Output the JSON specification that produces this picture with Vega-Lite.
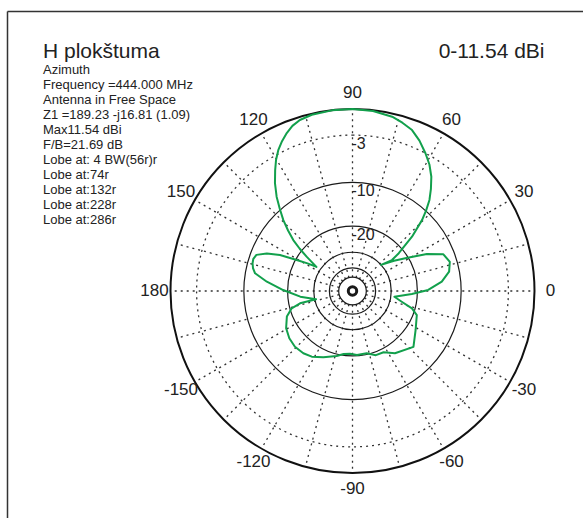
{
  "$schema": "https://vega.github.io/schema/vega-lite/v6.json",
  "width": 576,
  "height": 507,
  "autosize": {"type": "none"},
  "padding": {"left": 7, "top": 11, "right": 0, "bottom": 0},
  "background": "white",
  "config": {"view": {"stroke": null}, "font": "Liberation Sans"},
  "title": {
    "text": "H plokštuma",
    "subtitle": ["Azimuth", "Frequency =444.000 MHz", "Antenna in Free Space", "Z1 =189.23 -j16.81 (1.09)", "Max11.54 dBi", "F/B=21.69 dB", "Lobe at: 4 BW(56r)r", "Lobe at:74r", "Lobe at:132r", "Lobe at:228r", "Lobe at:286r"],
    "anchor": "start",
    "frame": "group",
    "orient": "top",
    "offset": -216,
    "dx": 36,
    "font": "Liberation Sans",
    "fontSize": 21,
    "fontWeight": "normal",
    "color": "#222222",
    "subtitleFont": "Liberation Sans",
    "subtitleFontSize": 13,
    "subtitleColor": "#222222",
    "subtitleLineHeight": 15,
    "subtitlePadding": 2
  },
  "encoding": {
    "x": {
      "field": "px", "type": "quantitative",
      "scale": {"domain": [-1.8984, 1.2665], "nice": false, "zero": false},
      "axis": {"orient": "top", "labels": false, "ticks": false, "grid": false, "domain": true, "domainColor": "#333333", "domainWidth": 1.5,
        "title": "0-11.54 dBi", "titleFont": "Liberation Sans", "titleFontSize": 21, "titleFontWeight": "normal", "titleColor": "#222222",
        "titleAlign": "right", "titleAnchor": "end", "titleBaseline": "alphabetic", "titleX": 537, "titleY": 46, "titleAngle": 0}
    },
    "y": {
      "field": "py", "type": "quantitative",
      "scale": {"domain": [-1.2473, 1.5385], "nice": false, "zero": false},
      "axis": {"orient": "left", "labels": false, "ticks": false, "grid": false, "domain": true, "domainColor": "#333333", "domainWidth": 1.5, "title": null}
    }
  },
  "layer": [
    {
      "data": {"values": [
        {"angle": 0}, {"angle": 15}, {"angle": 30}, {"angle": 45}, {"angle": 60}, {"angle": 75},
        {"angle": 90}, {"angle": 105}, {"angle": 120}, {"angle": 135}, {"angle": 150}, {"angle": 165},
        {"angle": 180}, {"angle": 195}, {"angle": 210}, {"angle": 225}, {"angle": 240}, {"angle": 255},
        {"angle": 270}, {"angle": 285}, {"angle": 300}, {"angle": 315}, {"angle": 330}, {"angle": 345}
      ]},
      "transform": [
        {"calculate": "exp(0.05158*-50)*cos(datum.angle*PI/180)", "as": "px"},
        {"calculate": "exp(0.05158*-50)*sin(datum.angle*PI/180)", "as": "py"},
        {"calculate": "cos(datum.angle*PI/180)", "as": "px2"},
        {"calculate": "sin(datum.angle*PI/180)", "as": "py2"}
      ],
      "mark": {"type": "rule", "color": "#333333", "strokeWidth": 1.3, "strokeDash": [2, 4]},
      "encoding": {"x2": {"field": "px2"}, "y2": {"field": "py2"}}
    },
    {
      "data": {"values": [{"db": -3}]},
      "transform": [{"calculate": "0", "as": "px"}, {"calculate": "0", "as": "py"}, {"calculate": "exp(0.05158*datum.db)", "as": "r"}],
      "mark": {"type": "arc", "filled": false, "stroke": "#333333", "strokeWidth": 1.3, "strokeDash": [2, 4], "theta": 0, "theta2": 6.3},
      "encoding": {"radius": {"field": "r", "type": "quantitative", "stack": null, "scale": {"type": "linear", "domain": [0, 1], "range": [0, 182], "zero": true}}}
    },
    {
      "data": {"values": [{"db": -10}, {"db": -20}, {"db": -30}, {"db": -40}, {"db": -50}]},
      "transform": [{"calculate": "0", "as": "px"}, {"calculate": "0", "as": "py"}, {"calculate": "exp(0.05158*datum.db)", "as": "r"}],
      "mark": {"type": "arc", "filled": false, "stroke": "#1a1a1a", "strokeWidth": 1.2, "theta": 0, "theta2": 6.3},
      "encoding": {"radius": {"field": "r", "type": "quantitative", "stack": null, "scale": {"type": "linear", "domain": [0, 1], "range": [0, 182], "zero": true}}}
    },
    {
      "data": {"values": [{"db": -73}]},
      "transform": [{"calculate": "0", "as": "px"}, {"calculate": "0", "as": "py"}, {"calculate": "exp(0.05158*datum.db)", "as": "r"}],
      "mark": {"type": "arc", "filled": false, "stroke": "#1a1a1a", "strokeWidth": 3, "theta": 0, "theta2": 6.3},
      "encoding": {"radius": {"field": "r", "type": "quantitative", "stack": null, "scale": {"type": "linear", "domain": [0, 1], "range": [0, 182], "zero": true}}}
    },
    {
      "data": {"values": [{"db": 0}]},
      "transform": [{"calculate": "0", "as": "px"}, {"calculate": "0", "as": "py"}, {"calculate": "exp(0.05158*datum.db)", "as": "r"}],
      "mark": {"type": "arc", "filled": false, "stroke": "#111111", "strokeWidth": 2, "theta": 0, "theta2": 6.3},
      "encoding": {"radius": {"field": "r", "type": "quantitative", "stack": null, "scale": {"type": "linear", "domain": [0, 1], "range": [0, 182], "zero": true}}}
    },
    {
      "data": {"values": [{"label": "-3", "db": -3}, {"label": "-10", "db": -10}, {"label": "-20", "db": -20}]},
      "transform": [{"calculate": "0", "as": "px"}, {"calculate": "exp(0.05158*datum.db)", "as": "py"}],
      "mark": {"type": "text", "align": "left", "baseline": "middle", "dx": -1, "dy": 9, "fontSize": 16, "color": "#222222", "font": "Liberation Sans"},
      "encoding": {"text": {"field": "label"}}
    },
    {
      "data": {"values": [
        {"label": "0", "angle": 0}, {"label": "30", "angle": 30}, {"label": "60", "angle": 60}, {"label": "90", "angle": 90},
        {"label": "120", "angle": 120}, {"label": "150", "angle": 150}, {"label": "180", "angle": 180}, {"label": "-150", "angle": 210},
        {"label": "-120", "angle": 240}, {"label": "-90", "angle": 270}, {"label": "-60", "angle": 300}, {"label": "-30", "angle": 330}
      ]},
      "transform": [{"calculate": "1.088*cos(datum.angle*PI/180)", "as": "px"}, {"calculate": "1.088*sin(datum.angle*PI/180)", "as": "py"}],
      "mark": {"type": "text", "align": "center", "baseline": "middle", "fontSize": 17, "color": "#222222", "font": "Liberation Sans"},
      "encoding": {"text": {"field": "label"}}
    },
    {
      "data": {"values": [
        {"i": 1, "angle": 0.8, "db": -17.0}, {"i": 2, "angle": 6.0, "db": -13.7}, {"i": 3, "angle": 11.3, "db": -11.9},
        {"i": 4, "angle": 16.7, "db": -11.3}, {"i": 5, "angle": 22.0, "db": -12.0}, {"i": 6, "angle": 26.5, "db": -15.2},
        {"i": 7, "angle": 31.5, "db": -20.5}, {"i": 8, "angle": 36.1, "db": -24.5}, {"i": 9, "angle": 42.4, "db": -30.0},
        {"i": 10, "angle": 38.1, "db": -25.0}, {"i": 11, "angle": 39.2, "db": -21.6}, {"i": 12, "angle": 42.4, "db": -15.8},
        {"i": 13, "angle": 45.6, "db": -11.7}, {"i": 14, "angle": 47.6, "db": -9.9}, {"i": 15, "angle": 49.8, "db": -8.2},
        {"i": 16, "angle": 52.5, "db": -6.7}, {"i": 17, "angle": 55.4, "db": -5.25}, {"i": 18, "angle": 58.7, "db": -4.0},
        {"i": 19, "angle": 62.1, "db": -3.0}, {"i": 20, "angle": 66.0, "db": -1.95}, {"i": 21, "angle": 69.7, "db": -1.14},
        {"i": 22, "angle": 73.5, "db": -0.7}, {"i": 23, "angle": 77.2, "db": -0.35}, {"i": 24, "angle": 83.5, "db": -0.08},
        {"i": 25, "angle": 90, "db": 0}, {"i": 26, "angle": 96.5, "db": -0.02}, {"i": 27, "angle": 103, "db": -0.12},
        {"i": 28, "angle": 107.1, "db": -0.33}, {"i": 29, "angle": 110, "db": -0.68}, {"i": 30, "angle": 112.6, "db": -1.2},
        {"i": 31, "angle": 115.2, "db": -1.84}, {"i": 32, "angle": 117.8, "db": -2.6}, {"i": 33, "angle": 120.2, "db": -3.5},
        {"i": 34, "angle": 122.6, "db": -4.6}, {"i": 35, "angle": 125.7, "db": -6.1}, {"i": 36, "angle": 128.8, "db": -7.9},
        {"i": 37, "angle": 131.5, "db": -9.8}, {"i": 38, "angle": 134.3, "db": -11.8}, {"i": 39, "angle": 136.8, "db": -14.0},
        {"i": 40, "angle": 139.3, "db": -16.4}, {"i": 41, "angle": 141.3, "db": -19.2}, {"i": 42, "angle": 143.2, "db": -22.4},
        {"i": 43, "angle": 146.3, "db": -27.8}, {"i": 44, "angle": 148.5, "db": -24.0}, {"i": 45, "angle": 150.9, "db": -20.3},
        {"i": 46, "angle": 153.6, "db": -15.7}, {"i": 47, "angle": 156.3, "db": -12.9}, {"i": 48, "angle": 159.4, "db": -11.1},
        {"i": 49, "angle": 162.0, "db": -10.8}, {"i": 50, "angle": 164.5, "db": -10.9}, {"i": 51, "angle": 167.0, "db": -11.2},
        {"i": 52, "angle": 169.7, "db": -11.8}, {"i": 53, "angle": 173.8, "db": -14.5}, {"i": 54, "angle": 179.2, "db": -18.7},
        {"i": 55, "angle": 186.2, "db": -24.1}, {"i": 56, "angle": 192.8, "db": -30.7}, {"i": 57, "angle": 193.2, "db": -23.6},
        {"i": 58, "angle": 195.9, "db": -20.5}, {"i": 59, "angle": 201.3, "db": -18.4}, {"i": 60, "angle": 209.3, "db": -16.9},
        {"i": 61, "angle": 216.8, "db": -16.2}, {"i": 62, "angle": 224.1, "db": -15.9}, {"i": 63, "angle": 231.7, "db": -16.1},
        {"i": 64, "angle": 238.2, "db": -16.6}, {"i": 65, "angle": 246.2, "db": -17.9}, {"i": 66, "angle": 256.3, "db": -19.4},
        {"i": 67, "angle": 262.0, "db": -20.4}, {"i": 68, "angle": 267.7, "db": -20.6}, {"i": 69, "angle": 274.0, "db": -20.2},
        {"i": 70, "angle": 282.8, "db": -20.3}, {"i": 71, "angle": 290.0, "db": -19.0}, {"i": 72, "angle": 296.9, "db": -18.9},
        {"i": 73, "angle": 304.3, "db": -17.1}, {"i": 74, "angle": 317.5, "db": -15.3}, {"i": 75, "angle": 328.3, "db": -17.4},
        {"i": 76, "angle": 339.5, "db": -18.9}, {"i": 77, "angle": 343.7, "db": -20.9}, {"i": 78, "angle": 347.7, "db": -24.9},
        {"i": 79, "angle": 352.2, "db": -28.3}, {"i": 80, "angle": 357.1, "db": -21.7}, {"i": 81, "angle": 360.8, "db": -17.0}
      ]},
      "transform": [
        {"calculate": "exp(0.05158*datum.db)", "as": "r"},
        {"calculate": "datum.r*cos(datum.angle*PI/180)", "as": "px"},
        {"calculate": "datum.r*sin(datum.angle*PI/180)", "as": "py"}
      ],
      "mark": {"type": "line", "color": "#12a04c", "strokeWidth": 2, "strokeJoin": "round"},
      "encoding": {"order": {"field": "i", "type": "quantitative"}}
    }
  ]
}
